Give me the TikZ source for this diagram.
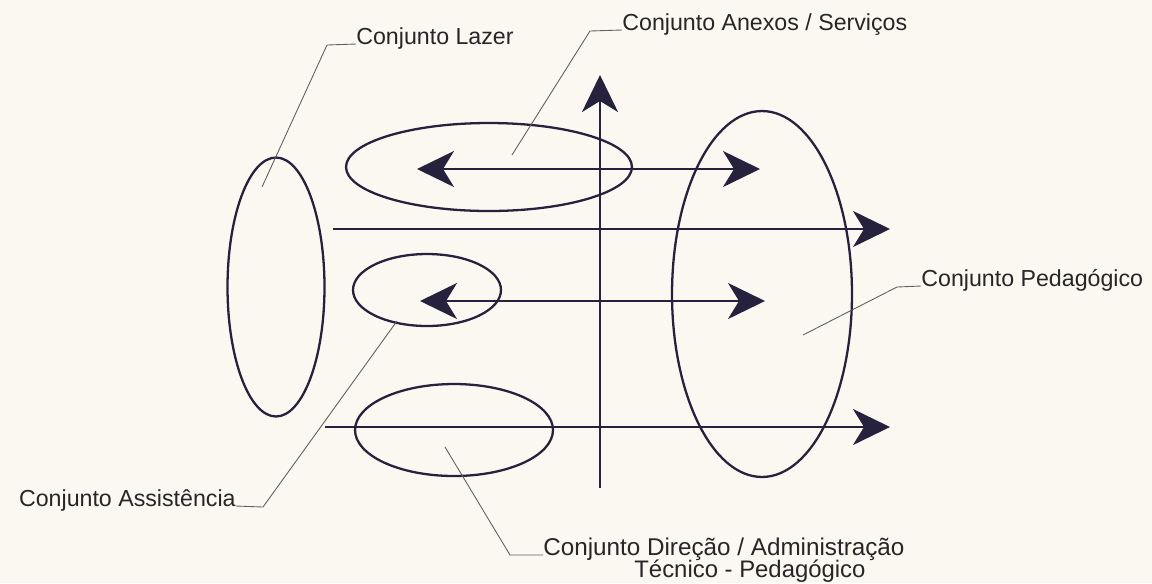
\documentclass[tikz,border=0pt]{standalone}
\usepackage{fontspec}
\setmainfont{Liberation Sans}
\usepackage{xcolor}
\definecolor{inkblue}{RGB}{38,34,62}
\definecolor{paper}{RGB}{251,248,241}
\definecolor{leadgray}{RGB}{95,95,95}
\usetikzlibrary{positioning,calc,arrows.meta,shapes.geometric}

\begin{document}
\begin{tikzpicture}[x=0.02cm, y=-0.02cm, >={Stealth[length=0.74cm, width=0.72cm, inset=0.22cm]}, set/.style = {ellipse, draw=inkblue, line width=1.3pt, inner sep=0pt}, flow/.style = {draw=inkblue, line width=1.5pt, ->}, both/.style = {draw=inkblue, line width=1.3pt, <->}, tag/.style = {inner sep=0pt, anchor=base west, text=black!85, font=\fontsize{13.2}{16}\selectfont}, leader/.style = {draw=leadgray, line width=0.5pt}]

\fill[paper] (0,0) rectangle (1152,583);
\useasboundingbox (0,0) rectangle (1152,583);

% the five sets
\node[set, minimum width=1.94cm, minimum height=5.18cm] (lz) at (276,287) {};
\node[set, minimum width=5.72cm, minimum height=1.76cm] (ax) at (489,167) {};
\node[set, minimum width=2.96cm, minimum height=1.44cm] (as) at (427,290) {};
\node[set, minimum width=3.96cm, minimum height=1.84cm] (dr) at (454,430) {};
\node[set, minimum width=3.6cm, minimum height=7.32cm] (pd) at (762,294) {};

% arrow ends
\coordinate (v0) at (600,488);
\coordinate (v1) at (600,75);
\coordinate (h1a) at (333,229);
\coordinate (h1b) at (890,229);
\coordinate (h2a) at (325,427);
\coordinate (h2b) at (890,427);
\coordinate (d1a) at (417,169);
\coordinate (d1b) at (760,169);
\coordinate (d2a) at (420,301);
\coordinate (d2b) at (765,301);

\draw[flow] (v0) -- (v1);
\draw[flow] (h1a) -- (h1b);
\draw[flow] (h2a) -- (h2b);
\draw[both] (d1a) -- (d1b);
\draw[both] (d2a) -- (d2b);

% labels
\node[tag] (tlz) at (356,44) {Conjunto Lazer};
\node[tag] (tax) at (622,30) {Conjunto Anexos / Serviços};
\node[tag] (tpd) at (921,286) {Conjunto Pedagógico};
\node[tag, anchor=base east] (tas) at (236,506) {Conjunto Assistência};
\node[tag, font=\fontsize{13.8}{16}\selectfont] (tdr) at (543,555) {Conjunto Direção / Administração};
\node[tag, anchor=base, font=\fontsize{13.6}{16}\selectfont] (tdr2) at ($(tdr.base)+(26,22)$) {Técnico - Pedagógico};

% leader lines
\coordinate (lzin) at (262,187);
\coordinate (lzk) at (327,45);
\coordinate (axin) at (512,155);
\coordinate (axk) at (590,31);
\coordinate (asin) at (397,321);
\coordinate (ask) at (263,507);
\coordinate (drin) at (445,447);
\coordinate (drk) at (510,555);
\coordinate (pdin) at (803,335);
\coordinate (pdk) at (897,287);

\draw[leader] (lzin) -- (lzk) -- (tlz.base west);
\draw[leader] (axin) -- (axk) -- (tax.base west);
\draw[leader] (asin) -- (ask) -- (tas.base east);
\draw[leader] (drin) -- (drk) -- (tdr.base west);
\draw[leader] (pdin) -- (pdk) -- (tpd.base west);
\end{tikzpicture}
\end{document}
